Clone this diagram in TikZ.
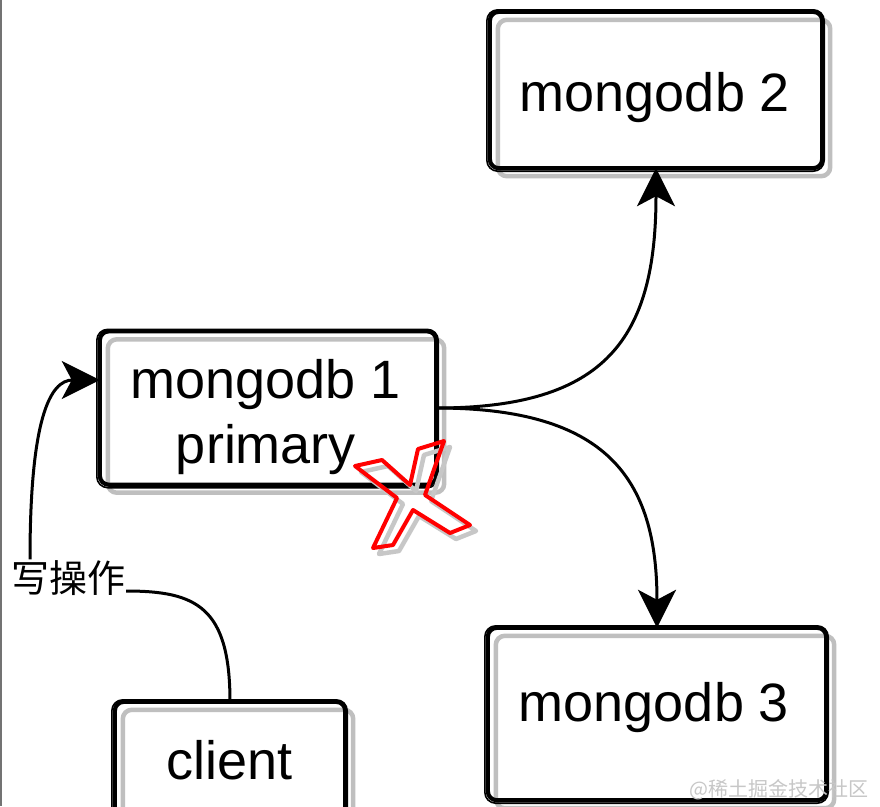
\documentclass[tikz,border=0pt]{standalone}
\usepackage{fontspec}
\setmainfont{Liberation Sans}
\newfontfamily\cjk{Noto Sans CJK SC}
\usetikzlibrary{arrows.meta}
\tikzset{
  boxshape/.style={inner sep=0pt},
  boxtext/.style={inner sep=0pt, align=center, font=\fontsize{54}{65}\selectfont},
  boxl/.style={draw=black, line width=4.2pt, rounded corners=9pt},
  boxlb/.style={draw=black, line width=1.6pt, rounded corners=11pt},
  shadowl/.style={draw=black!25, line width=4.5pt, rounded corners=9pt},
  arr/.style={draw=black, line width=3pt, -{Stealth[length=38pt,width=38pt,inset=10pt]}},
  conn/.style={draw=black, line width=3pt},
  xmark/.style={draw=red, line width=4pt, line join=round},
  xshadow/.style={draw=black!22, line width=4.5pt, line join=round},
}
\newcommand\sketchbox[1]{%
  \draw[shadowl] ([shift={(8,8)}]#1.north west) rectangle ([shift={(8,8)}]#1.south east);
  \draw[boxl] (#1.north west) rectangle (#1.south east);
  \draw[boxlb] ([shift={(-3,-2)}]#1.north west) rectangle ([shift={(2,3)}]#1.south east);
}
\begin{document}
\begin{tikzpicture}[x=1pt,y=-1pt]
\useasboundingbox (0,0) rectangle (880,806);
\clip (0,0) rectangle (880,806);
\fill[white] (0,0) rectangle (880,806);
\draw[black!55, line width=2pt] (1,0) -- (1,806);

% boxes
\node[boxshape, minimum width=332pt, minimum height=156pt] (m2) at (656,90) {};
\node[boxshape, minimum width=336pt, minimum height=153pt] (m1) at (268,408) {};
\node[boxshape, minimum width=338pt, minimum height=172pt] (m3) at (657,714) {};
\node[boxshape, minimum width=230pt, minimum height=118pt] (cl) at (230,761) {};
\sketchbox{m2}
\sketchbox{m1}
\sketchbox{m3}
\sketchbox{cl}
\node[boxtext] (m2t) at (655,98) {mongodb 2};
\node[boxtext] (m1t) at (266,417) {mongodb 1\\primary};
\node[boxtext] (m3t) at (654,708) {mongodb 3};
\node[boxtext] (clt) at (230,760) {client};

% label
\node[inner sep=1pt, font=\cjk\fontsize{38}{40}\selectfont] (lbl) at (68,578) {写操作};

% connectors
\draw[arr] (m1.east) .. controls +(170,0) and +(0,170) .. (m2.south);
\draw[arr] (m1.east) .. controls +(170,0) and +(0,-150) .. (m3.north);
\draw[conn] (cl.north) .. controls +(0,-95) and +(70,0) .. ([yshift=-13pt]lbl.east);
\draw[arr] ([xshift=-38pt]lbl.north) .. controls +(0,-140) and +(-50,0) .. ([yshift=28pt]m1.west);

% red X
\draw[xshadow] (361,472) -- (388,466) -- (416,491) -- (424,455) -- (450,447) -- (431,501) -- (476,531) -- (456,539) -- (419,516) -- (399,551) -- (379,554) -- (403,504) -- cycle;
\draw[xmark] (355,466) -- (382,460) -- (410,485) -- (418,449) -- (444,441) -- (425,495) -- (470,525) -- (450,533) -- (413,510) -- (393,545) -- (373,548) -- (397,498) -- cycle;

% watermark
\node[text=black!22, font=\cjk\fontsize{20}{22}\selectfont, anchor=east] (wm) at (872,790) {@稀土掘金技术社区};
\end{tikzpicture}
\end{document}
